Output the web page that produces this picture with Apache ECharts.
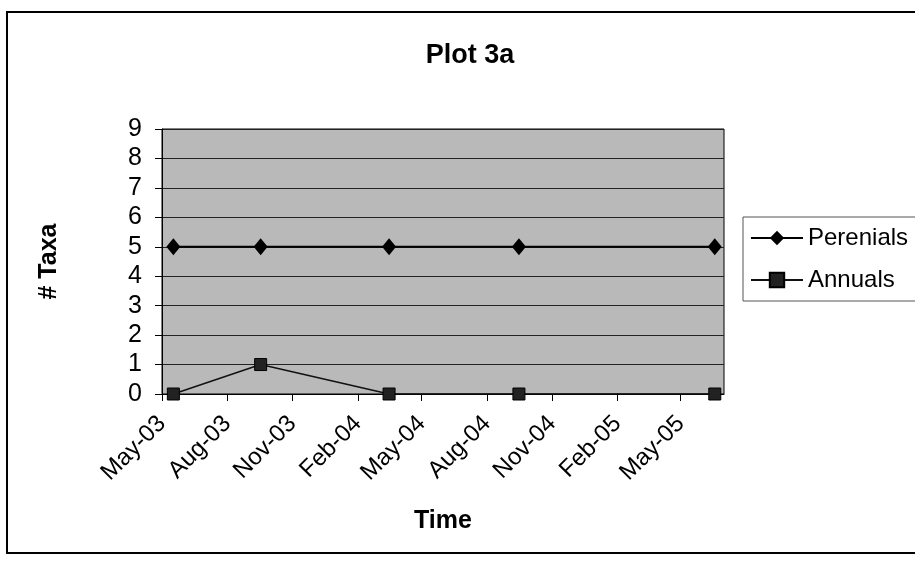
<!DOCTYPE html>
<html>
<head>
<meta charset="utf-8">
<title>Plot 3a</title>
<script src="https://cdn.jsdelivr.net/npm/echarts@6/dist/echarts.min.js"></script>
<style>
  html, body { margin: 0; padding: 0; background: #fff; }
  #chart { width: 915px; height: 566px; }
</style>
</head>
<body>
<div id="chart"></div>
<script>
// sample dates and counts
var sampleDates = ['2003-05-17', '2003-09-17', '2004-03-16', '2004-09-15', '2005-06-18'];
var perenials = [5, 5, 5, 5, 5];
var annuals = [0, 1, 0, 0, 0];

// date axis ticks, every 3 months
var tickDates = ['2003-05-01', '2003-08-01', '2003-11-01', '2004-02-01', '2004-05-01',
                 '2004-08-01', '2004-11-01', '2005-02-01', '2005-05-01'];
var tickLabels = ['May-03', 'Aug-03', 'Nov-03', 'Feb-04', 'May-04',
                  'Aug-04', 'Nov-04', 'Feb-05', 'May-05'];
var axisStart = '2003-05-01';
var axisEnd = '2005-07-01';

// days since axisStart, so the value axis works like a date axis
function toDay(s) {
    var p = s.split('-');
    var a = axisStart.split('-');
    return Math.round((Date.UTC(+p[0], +p[1] - 1, +p[2]) - Date.UTC(+a[0], +a[1] - 1, +a[2])) / 86400000);
}

var tickValues = tickDates.map(toDay);

function pairs(vals) {
    return sampleDates.map(function (d, i) { return [toDay(d), vals[i]]; });
}

var font = 'Arial, "Liberation Sans", sans-serif';

var chart = echarts.init(document.getElementById('chart'));

chart.setOption({
    animation: false,
    backgroundColor: '#fff',
    title: {
        text: 'Plot 3a',
        left: 465,
        top: 37,
        textAlign: 'center',
        textStyle: { fontFamily: font, fontSize: 27, fontWeight: 'bold', color: '#000' }
    },
    legend: {
        orient: 'vertical',
        left: 743,
        top: 217,
        padding: [9, 20, 9, 7],
        itemGap: 18,
        itemWidth: 52,
        itemHeight: 18,
        borderColor: '#555',
        borderWidth: 1,
        textStyle: { fontFamily: font, fontSize: 24, color: '#000' },
        data: ['Perenials', 'Annuals']
    },
    grid: {
        left: 162,
        right: 191,
        top: 129,
        bottom: 172,
        show: true,
        backgroundColor: '#b9b9b9',
        borderColor: '#000',
        borderWidth: 1,
        outerBoundsMode: 'none'
    },
    xAxis: {
        type: 'value',
        min: toDay(axisStart),
        max: toDay(axisEnd),
        name: 'Time',
        nameLocation: 'middle',
        nameGap: 115,
        nameTextStyle: { fontFamily: font, fontSize: 25, fontWeight: 'bold', color: '#000' },
        axisLine: { show: true, lineStyle: { color: '#000', width: 1 } },
        axisTick: { show: true, customValues: tickValues, length: 7, lineStyle: { color: '#000' } },
        axisLabel: {
            customValues: tickValues,
            rotate: 45,
            margin: 26,
            fontFamily: font,
            fontSize: 24,
            color: '#000',
            formatter: function (v) {
                var i = tickValues.indexOf(v);
                return i >= 0 ? tickLabels[i] : '';
            }
        },
        splitLine: { show: false }
    },
    yAxis: {
        type: 'value',
        min: 0,
        max: 9,
        interval: 1,
        name: '# Taxa',
        nameLocation: 'middle',
        nameRotate: 90,
        nameGap: 100,
        nameTextStyle: { fontFamily: font, fontSize: 25, fontWeight: 'bold', color: '#000' },
        axisLine: { show: true, lineStyle: { color: '#000', width: 1 } },
        axisTick: { show: true, length: 7, lineStyle: { color: '#000' } },
        axisLabel: { margin: 20, fontFamily: font, fontSize: 25, color: '#000' },
        splitLine: { show: true, lineStyle: { color: '#222', width: 1 } }
    },
    graphic: [{
        type: 'rect',
        shape: { x: 7, y: 12, width: 930, height: 541 },
        style: { fill: 'none', stroke: '#000', lineWidth: 2 },
        silent: true
    }],
    series: [
        {
            name: 'Perenials',
            type: 'line',
            data: pairs(perenials),
            symbol: 'diamond',
            symbolSize: [14, 17],
            lineStyle: { color: '#000', width: 2 },
            itemStyle: { color: '#000' },
            z: 3
        },
        {
            name: 'Annuals',
            type: 'line',
            data: pairs(annuals),
            symbol: 'rect',
            symbolSize: 12,
            lineStyle: { color: '#111', width: 1.5 },
            itemStyle: { color: '#222', borderColor: '#000', borderWidth: 1 },
            z: 4
        }
    ]
});
</script>
</body>
</html>
